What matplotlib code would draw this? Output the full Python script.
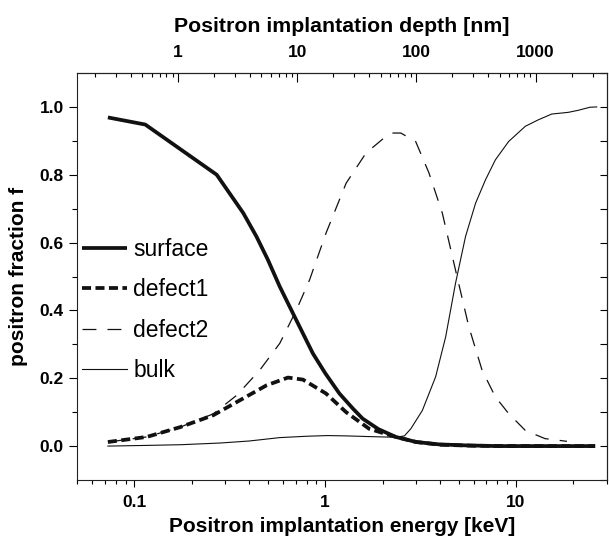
import numpy as np
import matplotlib.pyplot as plt
from matplotlib.ticker import FixedLocator, LogLocator, NullFormatter, MultipleLocator

plt.rcParams['font.family'] = ['Liberation Sans', 'DejaVu Sans']
plt.rcParams['lines.scale_dashes'] = False

# positron implantation energy [keV] and fractions
E_surface = [0.0726, 0.114, 0.270, 0.372, 0.436, 0.50, 0.578, 0.692, 0.862, 1.00,
             1.187, 1.40, 1.571, 1.9, 2.344, 3.0, 3.95, 5.5, 8.0, 12.0, 18.0, 26.0]
surface = [0.969, 0.948, 0.800, 0.687, 0.618, 0.55, 0.470, 0.381, 0.273, 0.215,
           0.155, 0.11, 0.081, 0.05, 0.027, 0.012, 0.005, 0.002, 0.0, 0.0, 0.0, 0.0]

E_defect1 = [0.0726, 0.116, 0.174, 0.259, 0.357, 0.492, 0.638, 0.764, 1.01, 1.287,
             1.70, 2.34, 3.0, 4.0, 6.0, 10.0, 18.0, 26.0]
defect1 = [0.012, 0.027, 0.056, 0.091, 0.135, 0.179, 0.202, 0.196, 0.155, 0.100,
           0.051, 0.027, 0.012, 0.004, 0.001, 0.0, 0.0, 0.0]

E_defect2 = [0.0726, 0.116, 0.174, 0.259, 0.344, 0.454, 0.578, 0.706, 0.828, 1.01,
             1.287, 1.636, 2.0, 2.25, 2.49, 2.98, 3.50, 4.11, 4.82, 5.66, 6.64,
             7.80, 9.15, 11.2, 14.2, 18.5]
defect2 = [0.012, 0.027, 0.056, 0.095, 0.150, 0.224, 0.303, 0.401, 0.490, 0.628,
           0.775, 0.864, 0.905, 0.923, 0.923, 0.898, 0.805, 0.687, 0.519, 0.352,
           0.224, 0.145, 0.096, 0.046, 0.022, 0.014]

E_bulk = [0.0726, 0.116, 0.174, 0.281, 0.40, 0.578, 0.80, 1.03, 1.3, 1.7, 2.34,
          2.6, 2.81, 3.23, 3.79, 4.28, 4.82, 5.44, 6.14, 6.92, 7.80, 9.15, 11.2,
          13.1, 15.4, 18.8, 21.2, 24.4, 26.5]
bulk = [0.0, 0.002, 0.004, 0.009, 0.015, 0.025, 0.029, 0.031, 0.030, 0.028, 0.026,
        0.030, 0.051, 0.105, 0.204, 0.322, 0.480, 0.618, 0.716, 0.785, 0.844,
        0.898, 0.943, 0.962, 0.979, 0.984, 0.990, 0.999, 1.0]

depth_ticks = [1, 10, 100, 1000]
energy_ticks = [0.1, 1, 10]

# Makhov mean depth, silicon (rho = 2.33 g/cm3)
A_MAKHOV = 40 / 2.33


def e2z(E):
    E = np.asarray(E, dtype=float)
    return A_MAKHOV * np.where(E > 0, E, 1e-12) ** 1.6


def z2e(z):
    z = np.asarray(z, dtype=float)
    return (np.where(z > 0, z, 1e-12) / A_MAKHOV) ** (1 / 1.6)


fig = plt.figure(figsize=(6.09, 5.45), dpi=100)
ax = fig.add_axes([77 / 609, 65 / 545, 530 / 609, 407 / 545])

l1, = ax.plot(E_surface, surface, color='#111111', lw=2.7, solid_capstyle='butt')
l2, = ax.plot(E_defect1, defect1, color='#111111', lw=2.7, dashes=(6.5, 3.2))
l3, = ax.plot(E_defect2, defect2, color='#111111', lw=0.9, dashes=(10, 8))
l4, = ax.plot(E_bulk, bulk, color='#111111', lw=0.8)

ax.set_xscale('log')
ax.set_xlim(0.05, 30)
ax.set_ylim(-0.1, 1.1)

for sp in ax.spines.values():
    sp.set_linewidth(0.8)
    sp.set_color('#222222')

ax.xaxis.set_major_locator(FixedLocator(energy_ticks))
ax.set_xticklabels(['0.1', '1', '10'])
ax.xaxis.set_minor_locator(LogLocator(base=10, subs=np.arange(2, 10)))
ax.xaxis.set_minor_formatter(NullFormatter())
ax.tick_params(axis='x', which='major', direction='out', length=5, width=0.8, pad=6,
               top=False, labelsize=12.5)
ax.tick_params(axis='x', which='minor', direction='out', length=3, width=0.8, top=False)

ax.yaxis.set_major_locator(FixedLocator([0.0, 0.2, 0.4, 0.6, 0.8, 1.0]))
ax.set_yticklabels(['0.0', '0.2', '0.4', '0.6', '0.8', '1.0'])
ax.yaxis.set_minor_locator(FixedLocator([0.1, 0.3, 0.5, 0.7, 0.9]))
ax.tick_params(axis='y', which='major', direction='out', length=5.5, width=0.8, pad=4,
               right=False, labelsize=12.5)
ax.tick_params(axis='y', which='minor', direction='out', length=3.5, width=0.8, right=False)
for t in ax.get_xticklabels() + ax.get_yticklabels():
    t.set_fontweight('bold')

ax.set_xlabel('Positron implantation energy [keV]', fontsize=15, fontweight='bold', labelpad=5)
ax.set_ylabel('positron fraction f', fontsize=15, fontweight='bold', labelpad=8)

# top axis: implantation depth
top = ax.secondary_xaxis('top', functions=(e2z, z2e))
top.set_xticks(depth_ticks)
top.set_xticklabels(['1', '10', '100', '1000'])
top.xaxis.set_minor_locator(LogLocator(base=10, subs=np.arange(2, 10)))
top.xaxis.set_minor_formatter(NullFormatter())
top.tick_params(axis='x', which='major', direction='in', length=6.5, width=0.8, pad=9,
                labelsize=12.5)
top.tick_params(axis='x', which='minor', direction='in', length=3, width=0.8)
for t in top.get_xticklabels():
    t.set_fontweight('bold')
top.set_xlabel('Positron implantation depth [nm]', fontsize=15.3, fontweight='bold', labelpad=10)
top.spines['top'].set_linewidth(0.8)

right = ax.secondary_yaxis('right')
right.yaxis.set_major_locator(MultipleLocator(0.1))
right.tick_params(axis='y', direction='in', length=5, width=0.8, labelright=False)
right.spines['right'].set_linewidth(0.8)

ax.legend([l1, l2, l3, l4], ['surface', 'defect1', 'defect2', 'bulk'],
          loc='upper left', bbox_to_anchor=(0.01, 0.595), borderaxespad=0, borderpad=0,
          frameon=False, fontsize=16.5, handlelength=1.97, handletextpad=0.26,
          labelspacing=0.76)

fig.savefig('out.png', dpi=100)
